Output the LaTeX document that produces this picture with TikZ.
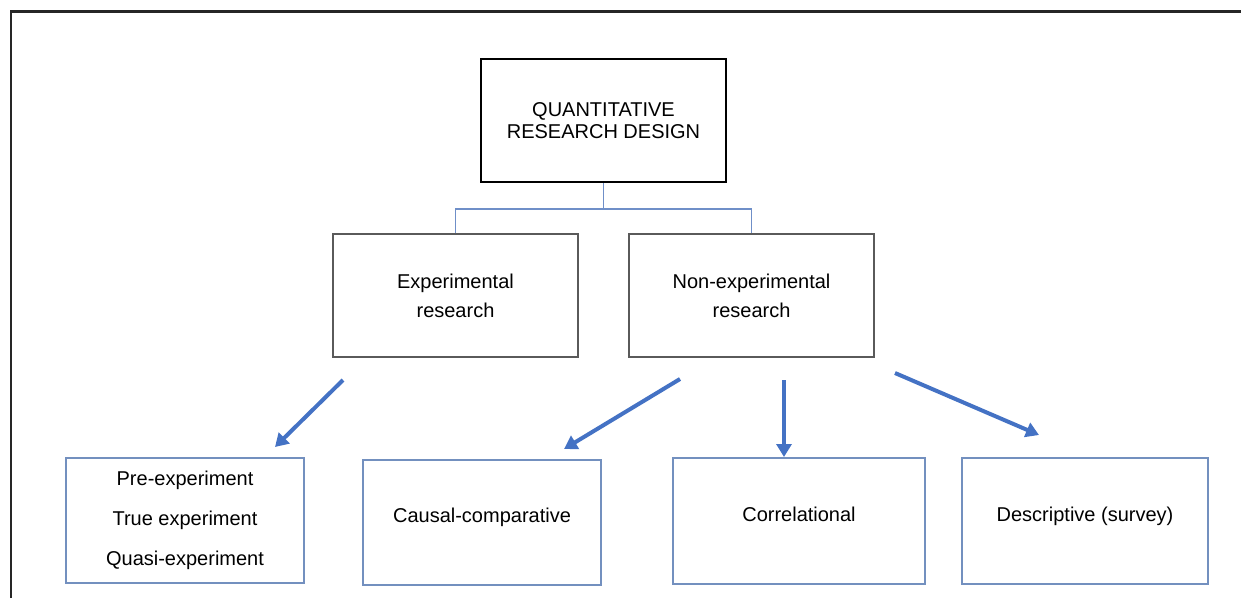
\documentclass[tikz,border=0pt]{standalone}
\usepackage{fontspec}
\setmainfont{Liberation Sans}
\usetikzlibrary{arrows.meta}
\definecolor{arrowblue}{HTML}{4472C4}
\definecolor{linkblue}{HTML}{6F8FC8}
\definecolor{boxblue}{HTML}{7390BF}
\definecolor{boxgray}{HTML}{5A5A5A}
\tikzset{
  topbox/.style={draw=black, line width=2pt, minimum width=245pt, minimum height=123pt, inner sep=0pt, align=center, font=\fontsize{20}{22}\selectfont},
  midbox/.style={draw=boxgray, line width=1.3pt, minimum width=245pt, minimum height=123pt, inner sep=0pt, align=center, font=\fontsize{20}{29}\selectfont},
  lowbox/.style={draw=boxblue, line width=1.3pt, inner sep=0pt, align=center, font=\fontsize{20}{40}\selectfont},
  onelinebox/.style={lowbox, text height=14pt, text depth=14pt},
  link/.style={draw=linkblue, line width=1.4pt},
  bigarrow/.style={draw=arrowblue, line width=4pt, -{Triangle[length=13pt,width=15pt]}},
  frameline/.style={draw=black!85, line width=2.5pt}
}
\begin{document}
\begin{tikzpicture}[x=1pt,y=-1pt]
\useasboundingbox (0,0) rectangle (1241,598);
\coordinate (f2) at (1241,11.5);
\coordinate (f3) at (11,598);
\draw[frameline] (f3) -- (11,11.5) -- (f2);

\node[topbox] (top) at (603.5,120.5) {QUANTITATIVE\\RESEARCH DESIGN};
\node[midbox] (exp) at (455.5,295.5) {Experimental\\research};
\node[midbox] (non) at (751.5,295.5) {Non-experimental\\research};

\node[lowbox, minimum width=238pt, minimum height=125pt] (b1) at (185,520.5) {Pre-experiment\\True experiment\\Quasi-experiment};
\node[onelinebox, minimum width=238pt, minimum height=125pt] (b2) at (482,522.5) {Causal-comparative};
\node[onelinebox, minimum width=252pt, minimum height=126pt] (b3) at (799,521) {Correlational};
\node[onelinebox, minimum width=246pt, minimum height=126pt] (b4) at (1085,521) {Descriptive (survey)};

\draw[link] (top.south) -- ++(0,26) coordinate (hub);
\draw[link] (exp.north) |- (hub) -| (non.north);

\coordinate (a1s) at (343,380);
\coordinate (a1e) at (275,447);
\coordinate (a2s) at (680,379);
\coordinate (a2e) at (564,449);
\coordinate (a3s) at (784,380);
\coordinate (a3e) at (784,457);
\coordinate (a4s) at (895,373);
\coordinate (a4e) at (1039,435);
\draw[bigarrow] (a1s) -- (a1e);
\draw[bigarrow] (a2s) -- (a2e);
\draw[bigarrow] (a3s) -- (a3e);
\draw[bigarrow] (a4s) -- (a4e);
\end{tikzpicture}
\end{document}
